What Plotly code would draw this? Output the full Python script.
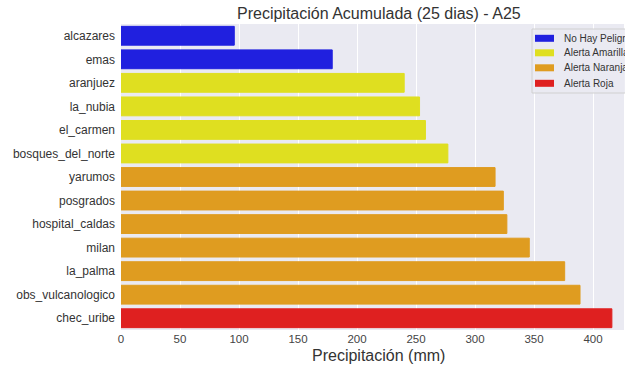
import plotly.graph_objects as go

stations = ["alcazares", "emas", "aranjuez", "la_nubia", "el_carmen", "bosques_del_norte",
            "yarumos", "posgrados", "hospital_caldas", "milan", "la_palma",
            "obs_vulcanologico", "chec_uribe"]
precip = [96, 179, 240, 253, 258, 277, 317, 324, 327, 346, 376, 389, 416]
levels = ["No Hay Peligro", "No Hay Peligro", "Alerta Amarilla", "Alerta Amarilla",
          "Alerta Amarilla", "Alerta Amarilla", "Alerta Naranja", "Alerta Naranja",
          "Alerta Naranja", "Alerta Naranja", "Alerta Naranja", "Alerta Naranja", "Alerta Roja"]
level_names = ["No Hay Peligro", "Alerta Amarilla", "Alerta Naranja", "Alerta Roja"]
level_colors = ["#2020DF", "#DFDF20", "#DF9C20", "#DF2020"]
xticks = [0, 50, 100, 150, 200, 250, 300, 350, 400]

fig = go.Figure()
for name, col in zip(level_names, level_colors):
    ys = [s for s, l in zip(stations, levels) if l == name]
    xs = [v for v, l in zip(precip, levels) if l == name]
    fig.add_trace(go.Bar(
        x=xs, y=ys, orientation="h", name=name, width=0.8,
        marker=dict(color=col, line=dict(color=col, width=1)),
    ))

L, R, T, B = 121, 1, 24, 39
W, H = 625, 369
pw = W - L - R
ph = H - T - B
xmax = pw / 1.18


def px_x(p):
    return (p - L) / pw


def px_y(p):
    return (H - B - p) / ph


# custom legend (matplotlib-style, cut at right edge like the reference)
shapes = [dict(type="rect", xref="paper", yref="paper",
               x0=px_x(532), x1=px_x(640), y0=px_y(93), y1=px_y(29),
               fillcolor="rgba(234,234,242,0.85)", line=dict(color="#D0D0D0", width=1),
               layer="above")]
annotations = []
row_y = [38.3, 52.8, 67.8, 83.3]
for name, col, yy in zip(level_names, level_colors, row_y):
    shapes.append(dict(type="rect", xref="paper", yref="paper",
                       x0=px_x(535), x1=px_x(554), y0=px_y(yy + 3.5), y1=px_y(yy - 3.5),
                       fillcolor=col, line=dict(width=0), layer="above"))
    annotations.append(dict(text=name, xref="paper", yref="paper",
                            x=px_x(562), y=px_y(yy), xanchor="left", yanchor="middle",
                            showarrow=False, font=dict(size=10, color="#333333")))

annotations += [
    dict(text="Precipitación Acumulada (25 dias) - A25", xref="paper", yref="paper",
         x=px_x(379), y=px_y(14), xanchor="center", yanchor="middle",
         showarrow=False, font=dict(size=16, color="#333333")),
    dict(text="Precipitación (mm)", xref="paper", yref="paper",
         x=px_x(378), y=px_y(355), xanchor="center", yanchor="middle",
         showarrow=False, font=dict(size=16, color="#333333")),
]

fig.update_layout(
    width=W, height=H,
    margin=dict(l=L, r=R, t=T, b=B, pad=0),
    paper_bgcolor="white",
    plot_bgcolor="#EAEAF2",
    barmode="overlay",
    font=dict(family="Liberation Sans, Arial, sans-serif", color="#333333", size=11),
    showlegend=False,
    xaxis=dict(
        range=[0, xmax], tickvals=xticks, ticktext=[str(t) for t in xticks],
        showgrid=True, gridcolor="white", gridwidth=1, zeroline=False,
        showline=False, ticks="", tickfont=dict(size=11.5, color="#444444"),
    ),
    yaxis=dict(
        categoryorder="array", categoryarray=stations,
        showgrid=False, zeroline=False, showline=False, ticks="",
        tickfont=dict(size=12, color="#333333"), ticklabelstandoff=5,
        range=[len(stations) - 0.5, -0.5],
    ),
    shapes=shapes,
    annotations=annotations,
)

fig.write_html("out.html",
               config={"displayModeBar": False},
               post_script="document.body.style.margin='0';document.body.style.overflow='hidden';")
